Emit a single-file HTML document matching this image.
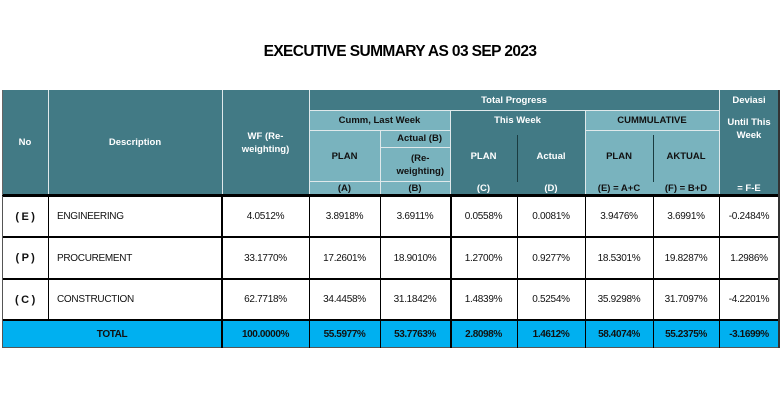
<!DOCTYPE html>
<html><head><meta charset="utf-8"><style>
body{margin:0;width:782px;height:404px;background:#fff;position:relative;overflow:hidden;font-family:"Liberation Sans",Arial,sans-serif}
.c{position:absolute;display:flex;align-items:center;justify-content:center;text-align:center;box-sizing:border-box}
.d{background:#427A85;color:#fff;font-weight:bold;font-size:9.5px;line-height:13px}
.l{background:#79B3BE;color:#111;font-weight:bold;font-size:9.5px;line-height:13px}
.v{font-size:10px;color:#111;letter-spacing:-0.3px}
.t{background:#00B0F0;font-size:10px;color:#111;letter-spacing:-0.4px;font-weight:bold}
.hl{position:absolute;background:#000}
.wl{position:absolute;background:#dfe9eb}
</style></head><body>
<div class="c" style="left:240px;top:40px;width:320px;height:24px;font-weight:bold;font-size:15.5px;letter-spacing:-0.6px;color:#000">EXECUTIVE SUMMARY AS 03 SEP 2023</div>

<div class="c d" style="left:2px;top:90px;width:777px;height:105px"></div>
<div class="c d" style="left:2px;top:90px;width:46px;height:105px">No</div>
<div class="c d" style="left:48px;top:90px;width:174px;height:105px">Description</div>
<div class="c d" style="left:222px;top:90px;width:87px;height:105px">WF (Re-<br>weighting)</div>
<div class="c d" style="left:309px;top:90px;width:410px;height:20px">Total Progress</div>
<div class="c l" style="left:309px;top:110px;width:141px;height:20px">Cumm, Last Week</div>
<div class="c l" style="left:309px;top:130px;width:71px;height:52px">PLAN</div>
<div class="c l" style="left:380px;top:130px;width:70px;height:17px;justify-content:flex-end;padding-right:8px">Actual (B)</div>
<div class="c l" style="left:380px;top:147px;width:70px;height:35px;justify-content:flex-end;padding-right:6px">(Re-<br>weighting)</div>
<div class="c l" style="left:309px;top:182px;width:71px;height:13px">(A)</div>
<div class="c l" style="left:380px;top:182px;width:70px;height:13px">(B)</div>
<div class="c d" style="left:450px;top:110px;width:135px;height:20px">This Week</div>
<div class="c d" style="left:450px;top:130px;width:67px;height:52px">PLAN</div>
<div class="c d" style="left:517px;top:130px;width:68px;height:52px">Actual</div>
<div class="c d" style="left:450px;top:182px;width:67px;height:13px">(C)</div>
<div class="c d" style="left:517px;top:182px;width:68px;height:13px">(D)</div>
<div class="c l" style="left:585px;top:110px;width:134px;height:20px">CUMMULATIVE</div>
<div class="c l" style="left:585px;top:130px;width:68px;height:52px">PLAN</div>
<div class="c l" style="left:653px;top:130px;width:66px;height:52px">AKTUAL</div>
<div class="c l" style="left:585px;top:182px;width:68px;height:13px">(E) = A+C</div>
<div class="c l" style="left:653px;top:182px;width:66px;height:13px">(F) = B+D</div>
<div class="c d" style="left:719px;top:90px;width:60px;height:20px">Deviasi</div>
<div class="c d" style="left:719px;top:110px;width:60px;height:40px;align-items:flex-start;padding-top:6px">Until This<br>Week</div>
<div class="c d" style="left:719px;top:182px;width:60px;height:13px">= F-E</div>
<div class="wl" style="left:48px;top:90px;width:1px;height:105px"></div>
<div class="wl" style="left:222px;top:90px;width:1px;height:105px"></div>
<div class="wl" style="left:309px;top:90px;width:1px;height:105px"></div>
<div class="wl" style="left:719px;top:90px;width:1px;height:105px"></div>
<div class="wl" style="left:309px;top:110px;width:410px;height:1px"></div>
<div class="wl" style="left:309px;top:130px;width:141px;height:1px"></div>
<div class="wl" style="left:585px;top:130px;width:134px;height:1px"></div>
<div class="wl" style="left:380px;top:147px;width:70px;height:1px"></div>
<div class="wl" style="left:309px;top:181px;width:141px;height:1px"></div>
<div class="wl" style="left:450px;top:110px;width:1px;height:85px"></div>
<div class="wl" style="left:585px;top:110px;width:1px;height:85px"></div>
<div class="hl" style="left:380px;top:130px;width:1px;height:65px;background:#dfe9eb"></div>
<div class="hl" style="left:517px;top:135px;width:1px;height:47px;background:#1a3b40"></div>
<div class="hl" style="left:653px;top:135px;width:1px;height:47px;background:#1a3b40"></div>

<div class="c t" style="left:2px;top:320px;width:777px;height:28px"></div>

<div class="c v" style="left:2px;top:196px;width:46px;height:41px;font-weight:bold;font-size:11px">( E )</div>
<div class="c v" style="left:48px;top:196px;width:174px;height:41px;justify-content:flex-start;padding-left:9px">ENGINEERING</div>
<div class="c v" style="left:2px;top:237px;width:46px;height:42px;font-weight:bold;font-size:11px">( P )</div>
<div class="c v" style="left:48px;top:237px;width:174px;height:42px;justify-content:flex-start;padding-left:9px">PROCUREMENT</div>
<div class="c v" style="left:2px;top:279px;width:46px;height:41px;font-weight:bold;font-size:11px">( C )</div>
<div class="c v" style="left:48px;top:279px;width:174px;height:41px;justify-content:flex-start;padding-left:9px">CONSTRUCTION</div>
<div class="c t" style="left:2px;top:320px;width:220px;height:28px">TOTAL</div>

<div style="position:absolute;left:222px;top:196px;display:grid;grid-template-columns:87px 71px 70px 67px 68px 68px 66px 60px;grid-template-rows:41px 42px 41px 28px">
<div class="c v" style="position:static">4.0512%</div><div class="c v" style="position:static">3.8918%</div><div class="c v" style="position:static">3.6911%</div><div class="c v" style="position:static">0.0558%</div><div class="c v" style="position:static">0.0081%</div><div class="c v" style="position:static">3.9476%</div><div class="c v" style="position:static">3.6991%</div><div class="c v" style="position:static">-0.2484%</div>
<div class="c v" style="position:static">33.1770%</div><div class="c v" style="position:static">17.2601%</div><div class="c v" style="position:static">18.9010%</div><div class="c v" style="position:static">1.2700%</div><div class="c v" style="position:static">0.9277%</div><div class="c v" style="position:static">18.5301%</div><div class="c v" style="position:static">19.8287%</div><div class="c v" style="position:static">1.2986%</div>
<div class="c v" style="position:static">62.7718%</div><div class="c v" style="position:static">34.4458%</div><div class="c v" style="position:static">31.1842%</div><div class="c v" style="position:static">1.4839%</div><div class="c v" style="position:static">0.5254%</div><div class="c v" style="position:static">35.9298%</div><div class="c v" style="position:static">31.7097%</div><div class="c v" style="position:static">-4.2201%</div>
<div class="c t" style="position:static">100.0000%</div><div class="c t" style="position:static">55.5977%</div><div class="c t" style="position:static">53.7763%</div><div class="c t" style="position:static">2.8098%</div><div class="c t" style="position:static">1.4612%</div><div class="c t" style="position:static">58.4074%</div><div class="c t" style="position:static">55.2375%</div><div class="c t" style="position:static">-3.1699%</div>
</div>

<div class="hl" style="left:2px;top:194px;width:777px;height:3px"></div>
<div class="hl" style="left:2px;top:236px;width:777px;height:2px"></div>
<div class="hl" style="left:2px;top:278px;width:777px;height:2px"></div>
<div class="hl" style="left:2px;top:319px;width:777px;height:2px"></div>
<div class="hl" style="left:2px;top:347px;width:777px;height:1px;background:#555"></div>
<div class="hl" style="left:2px;top:196px;width:1px;height:152px;background:#555"></div>
<div class="hl" style="left:48px;top:196px;width:1px;height:124px"></div>
<div class="hl" style="left:221px;top:196px;width:2px;height:152px"></div>
<div class="hl" style="left:309px;top:196px;width:1px;height:152px"></div>
<div class="hl" style="left:380px;top:196px;width:1px;height:152px"></div>
<div class="hl" style="left:450px;top:196px;width:2px;height:152px"></div>
<div class="hl" style="left:517px;top:196px;width:1px;height:152px"></div>
<div class="hl" style="left:585px;top:196px;width:1px;height:152px"></div>
<div class="hl" style="left:653px;top:196px;width:1px;height:152px"></div>
<div class="hl" style="left:719px;top:196px;width:1px;height:152px"></div>
<div class="hl" style="left:778px;top:90px;width:2px;height:258px;background:#333"></div>
<div class="hl" style="left:2px;top:90px;width:1px;height:105px;background:#666"></div>
</body></html>
